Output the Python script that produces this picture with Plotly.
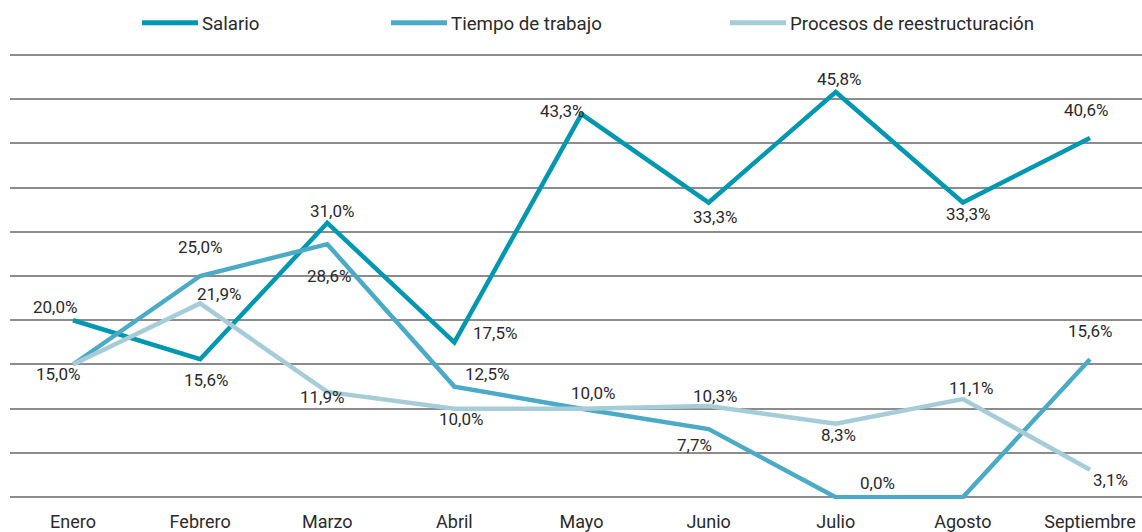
import plotly.graph_objects as go

months = ["Enero", "Febrero", "Marzo", "Abril", "Mayo", "Junio", "Julio", "Agosto", "Septiembre"]
salario = [20.0, 15.6, 31.0, 17.5, 43.3, 33.3, 45.8, 33.3, 40.6]
tiempo = [15.0, 25.0, 28.6, 12.5, 10.0, 7.7, 0.0, 0.0, 15.6]
procesos = [15.0, 21.9, 11.9, 10.0, 10.0, 10.3, 8.3, 11.1, 3.1]
series_names = ["Salario", "Tiempo de trabajo", "Procesos de reestructuración"]

colors = ["#0097B0", "#4BABC6", "#A6CCD8"]
FONT = "Roboto"
TXT = "#2a2a2a"

# label offsets in px (dx, dy with dy positive = down); None = no label
off_sal = [(-18, -13), (6, 21), (5, -12), (41, -9), (-20, -3), (6, 14), (3, -13), (5, 11), (-4, -28)]
off_tie = [(-15, 10), (0, -29), (2, 32), (33, -13), (11, -16), (-14, 16), (42, -14), None, (0, -28)]
off_pro = [None, (19, -9), (-5, 5), (7, 10), None, (6, -10), (3, 11), (8, -11), (20, 10)]

xs = list(range(len(months)))
fig = go.Figure()
for name, vals, col in zip(series_names, [salario, tiempo, procesos], colors):
    fig.add_trace(go.Scatter(x=xs, y=vals, mode="lines", name=name,
                             line=dict(color=col, width=4.5), cliponaxis=False,
                             showlegend=False, hoverinfo="skip"))

annotations = []
for vals, offs in [(salario, off_sal), (tiempo, off_tie), (procesos, off_pro)]:
    for i, (v, o) in enumerate(zip(vals, offs)):
        if o is None:
            continue
        annotations.append(dict(x=i, y=v, xref="x", yref="y",
                                text=f"{v:.1f}%".replace(".", ","), showarrow=False,
                                xshift=o[0], yshift=-o[1],
                                font=dict(family=FONT, size=17, color=TXT)))

# plot area in pixels (0 line at 497, 50 line at 55), small pad so edge gridlines draw
PAD = 0.2
PXU = (497 - 55) / 50.0
L, R = 10, 1142
T = 55 - PAD * PXU
B = 497 + PAD * PXU

def px(x):
    return (x - L) / (R - L)
def py(y):
    return (B - y) / (B - T)

shapes = []
leg_x = [142, 391, 730]
for xstart, name, col in zip(leg_x, series_names, colors):
    shapes.append(dict(type="line", xref="paper", yref="paper",
                       x0=px(xstart), x1=px(xstart + 56), y0=py(23), y1=py(23),
                       line=dict(color=col, width=5)))
    annotations.append(dict(x=px(xstart + 58), y=py(24), xref="paper", yref="paper",
                            text=name, showarrow=False, xanchor="left", yanchor="middle",
                            font=dict(family=FONT, size=18.7, color=TXT)))

fig.update_layout(
    width=1142, height=532,
    margin=dict(l=L, r=1142 - R, t=T, b=532 - B, autoexpand=False),
    plot_bgcolor="white", paper_bgcolor="white",
    showlegend=False,
    font=dict(family=FONT, size=17, color=TXT),
    xaxis=dict(tickmode="array", tickvals=xs, ticktext=months,
               range=[-63 / 127.125, (1142 - 73) / 127.125],
               showgrid=False, zeroline=False, showline=False, ticks="",
               ticklabelstandoff=10, automargin=False,
               tickfont=dict(size=18, family=FONT, color=TXT)),
    yaxis=dict(range=[-PAD, 50 + PAD], tickmode="array", tickvals=list(range(0, 55, 5)),
               showgrid=True, gridcolor="#8C8C8C",
               gridwidth=1.5, zeroline=False, showticklabels=False, ticks=""),
    annotations=annotations, shapes=shapes,
)
fig.write_html("out.html", config={"displayModeBar": False},
               post_script="document.body.style.margin='0px';document.body.style.overflow='hidden';")
